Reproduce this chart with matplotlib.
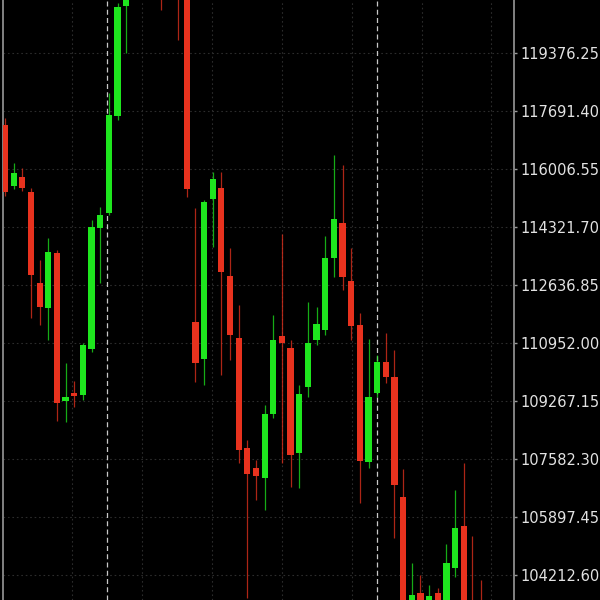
import matplotlib
matplotlib.use("Agg")
import matplotlib.pyplot as plt
import matplotlib.transforms as mtransforms
import numpy as np

# ---- data ----
opens = [117284.7, 115512.7, 115774.2, 115338.4, 112695.0, 111968.8, 113566.5, 109267.2,
         109499.6, 109441.5, 110777.7, 114292.7, 114728.4, 117546.2, 120741.6, 121554.9,
         122513.5, 122077.8, 123094.5, 121787.3, 122368.3, 121206.3, 111562.1, 110487.3,
         115135.1, 115454.6, 112898.3, 111097.3, 107901.9, 107320.9, 107030.5, 108889.6,
         111155.4, 110806.8, 107756.6, 109673.9, 111039.2, 111329.7, 113421.2, 114437.9,
         112753.1, 111474.9, 107495.2, 109499.6, 110400.1, 109964.4, 106478.5, 102760.2,
         103689.8, 103050.7, 103689.8, 103195.9, 104416.0, 105636.1, 103195.9, 103050.7]
highs = [117488.1, 116180.9, 116035.6, 115454.6, 113363.1, 114002.2, 113653.6, 110371.1,
         109848.2, 110952.0, 114525.1, 114902.7, 118214.3, 120828.7, 121932.6, 122949.3,
         123239.8, 123530.3, 123675.5, 122949.3, 122658.8, 121351.6, 114873.7, 115106.0,
         115919.4, 115919.4, 113711.7, 112055.9, 108134.3, 107553.3, 109151.0, 111765.4,
         114118.4, 111039.2, 109732.0, 112143.0, 111997.8, 114060.3, 116413.3, 116122.8,
         113711.7, 111823.5, 111068.2, 110603.5, 111242.5, 110748.7, 107291.9, 104561.3,
         104212.6, 103922.2, 103835.1, 105113.2, 106681.8, 107466.2, 105345.6, 104067.5]
lows = [115222.2, 115425.6, 115367.5, 111678.3, 111474.9, 111039.2, 108686.2, 108657.2,
        109093.0, 109296.2, 110690.6, 112695.0, 114670.3, 117430.0, 119376.25, 121148.2,
        121264.4, 121351.6, 120625.4, 121061.1, 119753.9, 115193.2, 109819.1, 109732.0,
        113740.7, 110022.5, 110458.2, 107466.2, 103544.5, 106391.4, 106100.9, 108773.4,
        107466.2, 106769.0, 106739.9, 109383.4, 110893.9, 111184.4, 112869.3, 112491.6,
        111039.2, 106304.2, 107320.9, 109383.4, 109790.1, 105287.5, 102615.0, 102324.5,
        102469.7, 102760.2, 102760.2, 103050.7, 104154.6, 102324.5, 102034.0, 101888.7]
closes = [115338.4, 115890.4, 115454.6, 112927.4, 111997.8, 113595.5, 109209.1, 109383.4,
          109412.4, 110893.9, 114321.7, 114670.3, 117575.2, 120712.5, 121496.8, 122513.5,
          122077.8, 123094.5, 121787.3, 122368.3, 121206.3, 115425.6, 110371.1, 115047.9,
          115716.1, 113014.5, 111184.4, 107843.8, 107146.6, 107088.5, 108889.6, 111039.2,
          110952.0, 107698.5, 109470.5, 110952.0, 111504.0, 113421.2, 114554.1, 112869.3,
          111445.9, 107524.3, 109383.4, 110400.1, 109964.4, 106827.1, 103050.7, 103631.7,
          102905.5, 103602.6, 103195.9, 104561.3, 105578.0, 102905.5, 102324.5, 102324.5]

tick_values = [104212.60, 105897.45, 107582.30, 109267.15, 110952.00, 112636.85,
               114321.70, 116006.55, 117691.40, 119376.25]
tick_labels = ["104212.60", "105897.45", "107582.30", "109267.15", "110952.00",
               "112636.85", "114321.70", "116006.55", "117691.40", "119376.25"]
top_value = 121061.10
top_label = "121061.10"

session_lines = [11.79, 42.98]          # bright dashed separators (candle index)
grid_x = [7.74, 15.83, 23.92, 32.0, 40.1, 48.2, 56.2]  # faint dotted verticals

# ---- style ----
GREEN = "#1ee61e"
RED = "#e8321e"
BG = "#000000"

fig = plt.figure(figsize=(6, 6), dpi=100, facecolor=BG)
ax = fig.add_axes([3 / 600, 0, 511 / 600, 1])
ax.set_facecolor(BG)

x = np.arange(len(opens))
o = np.array(opens); h = np.array(highs); l = np.array(lows); c = np.array(closes)
up = c >= o
colors = np.where(up, GREEN, RED)

# faint grid
for v in tick_values:
    ax.axhline(v, color="#2c2c2c", lw=0.8, ls=(0, (1.5, 2.5)), zorder=0)
for gx in grid_x:
    ax.axvline(gx, color="#2c2c2c", lw=0.8, ls=(0, (1.5, 2.5)), zorder=0)
for sx in session_lines:
    ax.axvline(sx, color="#c8c8c8", lw=0.9, ls=(0, (4.0, 2.6)), zorder=1)

# wicks
ax.vlines(x, l, h, colors=colors, lw=0.9, zorder=2, alpha=0.75)
# bodies
bottoms = np.minimum(o, c)
heights = np.maximum(np.abs(c - o), 40)
ax.bar(x, heights, bottom=bottoms, width=0.72, color=colors, edgecolor="none", zorder=3)

# limits: candle 0 centre at px 5, spacing 8.655 px
ax.set_xlim(-0.231, 58.81)
ax.set_ylim(103486.45, 120915.85)

ax.yaxis.tick_right()
ax.set_yticks(tick_values)
ax.set_yticklabels(tick_labels)
ax.tick_params(axis="y", colors="#9a9a9a", labelcolor="#e2e2e2", labelsize=10.5,
               length=2.5, width=1, pad=2, direction="out")
ax.set_xticks([])

for side in ["top", "bottom"]:
    ax.spines[side].set_visible(False)
ax.spines["right"].set_color("#8c8c8c")
ax.spines["right"].set_linewidth(1.3)
ax.spines["left"].set_color("#8c8c8c")
ax.spines["left"].set_linewidth(1.3)

trans = mtransforms.blended_transform_factory(ax.transAxes, ax.transData)
ax.text(1.0, top_value, "  " + top_label, transform=trans, color="#e2e2e2",
        fontsize=10.5, va="center", ha="left", clip_on=False)

fig.savefig("out.png", dpi=100, facecolor=BG)
